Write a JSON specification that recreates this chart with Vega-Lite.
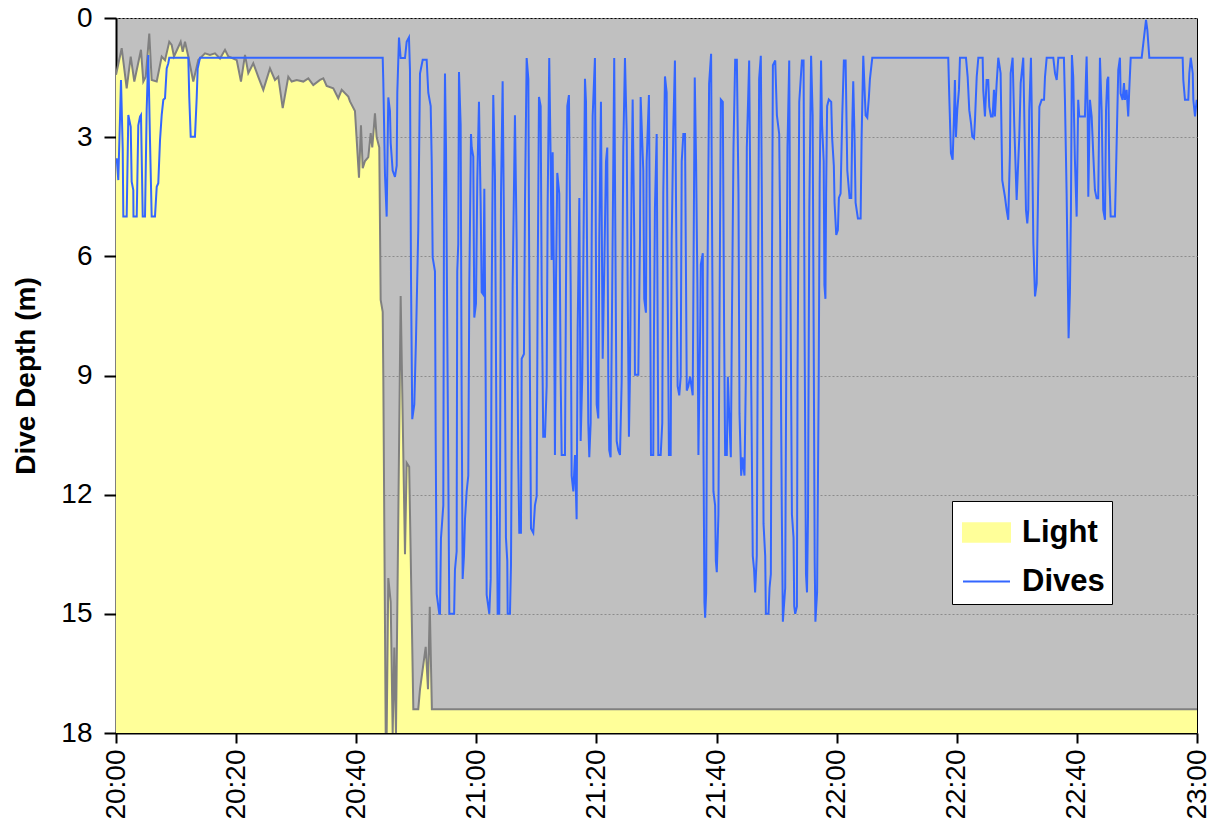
{
  "$schema": "https://vega.github.io/schema/vega-lite/v6.json",
  "width": 1081,
  "height": 715,
  "autosize": "none",
  "padding": {"left": 116, "top": 18, "right": 19, "bottom": 98},
  "background": "white",
  "config": {
    "view": {"fill": "#C0C0C0", "stroke": "#000000", "strokeWidth": 1},
    "font": "Liberation Sans"
  },
  "datasets": {
    "light": [
      {"t":0,"d":1.43},{"t":0.95,"d":0.76},{"t":1.78,"d":1.77},{"t":2.45,"d":0.97},{"t":3.05,"d":1.6},{"t":4.16,"d":0.8},{"t":4.55,"d":1.6},{"t":4.95,"d":1.48},{"t":5.54,"d":0.39},{"t":5.94,"d":1.56},{"t":6.78,"d":1.6},{"t":7.61,"d":0.97},{"t":8.16,"d":1.06},{"t":8.87,"d":0.6},{"t":9.27,"d":0.68},{"t":9.66,"d":0.97},{"t":10.77,"d":0.6},{"t":11.11,"d":0.85},{"t":11.49,"d":0.6},{"t":12.04,"d":0.97},{"t":12.87,"d":1.6},{"t":13.7,"d":1.06},{"t":14.82,"d":0.89},{"t":15.65,"d":0.93},{"t":16.48,"d":0.89},{"t":17.32,"d":1.02},{"t":18.15,"d":0.8},{"t":18.7,"d":0.97},{"t":19.53,"d":1.02},{"t":20.1,"d":1.06},{"t":20.81,"d":1.6},{"t":21.48,"d":0.93},{"t":22.03,"d":1.39},{"t":22.86,"d":1.14},{"t":23.69,"d":1.48},{"t":24.53,"d":1.81},{"t":25.64,"d":1.27},{"t":26.47,"d":1.56},{"t":27.02,"d":1.48},{"t":27.76,"d":2.27},{"t":28.69,"d":1.48},{"t":29.25,"d":1.6},{"t":30.09,"d":1.56},{"t":31.19,"d":1.6},{"t":32.02,"d":1.52},{"t":32.85,"d":1.69},{"t":33.97,"d":1.56},{"t":34.52,"d":1.52},{"t":35.08,"d":1.71},{"t":36.18,"d":1.77},{"t":37.01,"d":2.02},{"t":37.58,"d":1.81},{"t":38.68,"d":1.98},{"t":38.96,"d":2.1},{"t":39.79,"d":2.34},{"t":40.46,"d":4.02},{"t":40.79,"d":2.7},{"t":41.08,"d":3.78},{"t":41.46,"d":3.6},{"t":42.01,"d":3.5},{"t":42.41,"d":2.9},{"t":42.67,"d":3.26},{"t":43.12,"d":2.4},{"t":43.4,"d":3.0},{"t":43.84,"d":3.26},{"t":44.07,"d":7.1},{"t":44.41,"d":7.4},{"t":44.51,"d":9.0},{"t":44.91,"d":18},{"t":45.07,"d":18},{"t":45.34,"d":14.1},{"t":45.74,"d":14.7},{"t":46.07,"d":18},{"t":46.34,"d":15.85},{"t":46.62,"d":18},{"t":47.4,"d":7.0},{"t":48.12,"d":13.5},{"t":48.4,"d":11.2},{"t":48.82,"d":11.3},{"t":49.51,"d":17.4},{"t":50.33,"d":17.4},{"t":50.62,"d":16.9},{"t":51.57,"d":15.83},{"t":51.95,"d":16.9},{"t":52.25,"d":14.82},{"t":52.6,"d":17.4},{"t":180,"d":17.4}
    ],
    "dives": [
      {"t":0.12,"d":3.53},{"t":0.38,"d":4.08},{"t":0.67,"d":2.5},{"t":0.83,"d":1.56},{"t":1.12,"d":3.3},{"t":1.22,"d":5.0},{"t":1.78,"d":5.0},{"t":2.05,"d":2.44},{"t":2.45,"d":2.74},{"t":2.61,"d":4.12},{"t":2.88,"d":4.33},{"t":2.91,"d":5.0},{"t":3.45,"d":5.0},{"t":3.71,"d":2.7},{"t":4.0,"d":2.48},{"t":4.16,"d":2.44},{"t":4.45,"d":5.0},{"t":4.83,"d":5.0},{"t":5.11,"d":2.3},{"t":5.38,"d":0.93},{"t":5.66,"d":3.07},{"t":5.94,"d":5.0},{"t":6.49,"d":5.0},{"t":6.78,"d":4.25},{"t":7.04,"d":4.16},{"t":7.33,"d":3.07},{"t":7.61,"d":2.44},{"t":7.88,"d":2.06},{"t":8.16,"d":2.02},{"t":8.44,"d":1.27},{"t":8.71,"d":1.14},{"t":8.87,"d":1.0},{"t":12.04,"d":1.0},{"t":12.2,"d":2.0},{"t":12.44,"d":2.99},{"t":13.15,"d":2.99},{"t":13.44,"d":2.0},{"t":13.6,"d":1.27},{"t":13.99,"d":1.0},{"t":44.41,"d":1.0},
      {"t":44.51,"d":1.6},{"t":44.79,"d":3.95},{"t":45.07,"d":5.0},{"t":45.34,"d":2.0},{"t":45.62,"d":2.34},{"t":45.74,"d":3.15},{"t":46.07,"d":3.84},{"t":46.45,"d":4.0},{"t":46.74,"d":3.72},{"t":46.84,"d":1.88},{"t":47.12,"d":0.49},{"t":47.4,"d":1.01},{"t":48.12,"d":1.01},{"t":48.4,"d":0.6},{"t":48.78,"d":0.49},{"t":48.95,"d":1.3},{"t":49.12,"d":6.5},{"t":49.33,"d":10.1},{"t":49.67,"d":9.73},{"t":49.95,"d":8.1},{"t":50.33,"d":5.34},{"t":50.62,"d":1.4},{"t":51.07,"d":1.05},{"t":51.73,"d":1.05},{"t":52.0,"d":1.88},{"t":52.4,"d":2.22},{"t":52.57,"d":3.6},{"t":52.73,"d":6.03},{"t":53.11,"d":6.38},{"t":53.23,"d":10.5},{"t":53.4,"d":14.5},{"t":53.83,"d":15.0},{"t":53.95,"d":15.0},{"t":54.11,"d":13.1},{"t":54.5,"d":12.27},{"t":54.61,"d":5.11},{"t":54.78,"d":1.4},{"t":54.95,"d":3.26},{"t":55.16,"d":7.88},{"t":55.33,"d":11.35},{"t":55.5,"d":15.0},{"t":56.3,"d":15.0},
      {"t":56.44,"d":13.89},{"t":56.72,"d":13.43},{"t":56.82,"d":6.38},{"t":56.99,"d":5.69},{"t":57.11,"d":1.36},{"t":57.39,"d":2.69},{"t":57.56,"d":9.61},{"t":57.72,"d":14.12},{"t":57.94,"d":13.54},{"t":58.11,"d":12.62},{"t":58.39,"d":11.92},{"t":58.66,"d":11.52},{"t":58.83,"d":6.73},{"t":59.11,"d":2.92},{"t":59.23,"d":3.26},{"t":59.49,"d":3.49},{"t":59.66,"d":7.54},{"t":59.94,"d":7.19},{"t":60.16,"d":4.07},{"t":60.44,"d":2.11},{"t":60.72,"d":4.65},{"t":60.89,"d":6.9},{"t":61.16,"d":6.96},{"t":61.33,"d":4.3},{"t":61.55,"d":9.03},{"t":61.72,"d":14.52},{"t":62.16,"d":15.0},{"t":62.39,"d":14.12},{"t":62.56,"d":6.96},{"t":62.82,"d":1.94},{"t":63.1,"d":3.96},{"t":63.38,"d":11.35},{"t":63.55,"d":15.0},{"t":63.82,"d":15.0},{"t":63.94,"d":11.92},{"t":64.11,"d":4.42},{"t":64.38,"d":1.59},{"t":64.66,"d":6.15},{"t":64.93,"d":13.08},{"t":65.15,"d":13.66},{"t":65.22,"d":15.0},{"t":65.6,"d":15.0},{"t":65.77,"d":13.77},{"t":66.05,"d":6.73},{"t":66.43,"d":2.45},{"t":66.71,"d":5.57},{"t":66.98,"d":11.12},{"t":67.15,"d":12.96},{"t":67.43,"d":12.96},{"t":67.55,"d":8.58},{"t":67.93,"d":8.46},{"t":68.1,"d":4.65},{"t":68.38,"d":1.01},{"t":68.66,"d":1.53},{"t":68.82,"d":6.73},{"t":69.1,"d":12.85},{"t":69.48,"d":12.96},{"t":69.76,"d":12.27},{"t":70.05,"d":12.04},{"t":70.21,"d":6.73},{"t":70.43,"d":1.99},{"t":70.71,"d":2.22},{"t":70.88,"d":6.73},{"t":71.14,"d":10.54},{"t":71.43,"d":10.54},{"t":71.71,"d":9.27},{"t":71.88,"d":4.65},{"t":72.14,"d":1.01},{"t":72.38,"d":3.61},{"t":72.54,"d":6.09},{"t":72.71,"d":3.38},{"t":72.93,"d":6.73},{"t":73.09,"d":11.0},{"t":73.26,"d":6.73},{"t":73.48,"d":3.9},{"t":73.81,"d":4.42},{"t":74.04,"d":9.03},{"t":74.21,"d":11.0},{"t":74.76,"d":11.0},{"t":74.93,"d":6.73},{"t":75.15,"d":2.22},{"t":75.42,"d":1.94},{"t":75.71,"d":6.73},{"t":75.87,"d":11.52},{"t":76.15,"d":11.92},{"t":76.43,"d":11.0},{"t":76.7,"d":12.62},{"t":76.87,"d":7.88},{"t":77.15,"d":4.53},{"t":77.37,"d":10.65},{"t":77.64,"d":9.03},{"t":77.81,"d":6.27},{"t":78.09,"d":1.53},{"t":78.26,"d":2.11},{"t":78.64,"d":10.19},{"t":78.81,"d":11.06},{"t":79.04,"d":10.19},{"t":79.21,"d":5.57},{"t":79.37,"d":2.46},{"t":79.75,"d":1.01},{"t":80.04,"d":9.73},{"t":80.31,"d":10.08},{"t":80.47,"d":5.57},{"t":80.75,"d":2.11},{"t":81.04,"d":8.58},{"t":81.26,"d":6.73},{"t":81.59,"d":3.61},{"t":81.8,"d":3.26},{"t":81.97,"d":9.03},{"t":82.13,"d":10.88},{"t":82.36,"d":11.06},{"t":82.63,"d":6.73},{"t":82.96,"d":1.01},{"t":83.37,"d":10.65},{"t":83.63,"d":10.88},{"t":83.92,"d":11.0},{"t":84.2,"d":9.15},{"t":84.47,"d":3.26},{"t":84.75,"d":1.01},{"t":85.04,"d":2.92},{"t":85.2,"d":6.73},{"t":85.41,"d":10.54},{"t":85.58,"d":9.03},{"t":85.86,"d":4.07},{"t":86.03,"d":2.05},{"t":86.3,"d":5.57},{"t":86.41,"d":8.98},{"t":86.97,"d":8.98},{"t":87.25,"d":5.57},{"t":87.36,"d":1.99},{"t":87.8,"d":3.84},{"t":87.96,"d":7.07},{"t":88.24,"d":7.42},{"t":88.36,"d":3.61},{"t":88.74,"d":1.94},{"t":88.91,"d":5.57},{"t":89.08,"d":11.0},{"t":89.46,"d":11.0},{"t":89.58,"d":7.88},{"t":89.74,"d":4.77},{"t":90.03,"d":2.92},{"t":90.3,"d":11.0},{"t":90.7,"d":11.0},{"t":90.96,"d":10.19},{"t":91.13,"d":4.42},{"t":91.41,"d":1.47},{"t":91.69,"d":1.88},{"t":91.86,"d":6.73},{"t":92.07,"d":11.0},{"t":92.36,"d":11.0},{"t":92.53,"d":5.57},{"t":92.8,"d":2.8},{"t":93.07,"d":1.07},{"t":93.36,"d":6.73},{"t":93.52,"d":9.27},{"t":93.79,"d":9.5},{"t":94.03,"d":9.03},{"t":94.2,"d":3.61},{"t":94.47,"d":2.92},{"t":94.75,"d":2.92},{"t":95.04,"d":9.38},{"t":95.3,"d":9.27},{"t":95.59,"d":9.03},{"t":96.03,"d":9.5},{"t":96.37,"d":1.5},{"t":96.59,"d":3.61},{"t":96.81,"d":6.73},{"t":96.98,"d":11.0},{"t":97.27,"d":7.88},{"t":97.38,"d":6.21},{"t":97.71,"d":5.92},{"t":97.82,"d":10.77},{"t":97.98,"d":14.7},{"t":98.1,"d":15.1},{"t":98.27,"d":14.46},{"t":98.48,"d":6.73},{"t":98.76,"d":1.65},{"t":99.09,"d":0.9},{"t":99.31,"d":6.73},{"t":99.48,"d":11.92},{"t":99.76,"d":12.27},{"t":99.88,"d":13.66},{"t":100.04,"d":13.95},{"t":100.31,"d":12.5},{"t":100.48,"d":7.88},{"t":100.71,"d":2.05},{"t":101.04,"d":2.11},{"t":101.26,"d":7.88},{"t":101.43,"d":11.0},{"t":101.71,"d":11.0},{"t":101.88,"d":9.03},{"t":102.1,"d":9.96},{"t":102.38,"d":11.06},{"t":102.54,"d":7.88},{"t":102.82,"d":3.26},{"t":103.1,"d":1.05},{"t":103.38,"d":1.05},{"t":103.65,"d":4.42},{"t":103.82,"d":9.96},{"t":104.1,"d":11.52},{"t":104.31,"d":11.06},{"t":104.65,"d":11.52},{"t":104.88,"d":9.03},{"t":105.04,"d":3.26},{"t":105.43,"d":1.07},{"t":105.59,"d":3.84},{"t":105.76,"d":9.03},{"t":106.03,"d":13.54},{"t":106.25,"d":13.89},{"t":106.42,"d":14.46},{"t":106.7,"d":13.54},{"t":106.87,"d":7.88},{"t":107.09,"d":1.53},{"t":107.37,"d":0.95},{"t":107.54,"d":4.42},{"t":107.82,"d":12.73},{"t":108.1,"d":13.54},{"t":108.21,"d":15.0},{"t":108.65,"d":15.0},{"t":108.82,"d":14.35},{"t":109.04,"d":14.0},{"t":109.21,"d":6.73},{"t":109.38,"d":1.19},{"t":109.77,"d":1.07},{"t":110.05,"d":2.45},{"t":110.43,"d":2.92},{"t":110.59,"d":5.34},{"t":110.76,"d":10.19},{"t":110.87,"d":12.5},{"t":111.04,"d":15.2},{"t":111.43,"d":14.35},{"t":111.6,"d":9.03},{"t":111.81,"d":3.26},{"t":112.1,"d":1.07},{"t":112.26,"d":5.57},{"t":112.55,"d":12.5},{"t":112.82,"d":13.08},{"t":112.93,"d":14.81},{"t":113.1,"d":15.0},{"t":113.38,"d":14.81},{"t":113.48,"d":9.03},{"t":113.77,"d":2.11},{"t":114.21,"d":1.07},{"t":114.49,"d":1.07},{"t":114.66,"d":7.88},{"t":114.89,"d":14.0},{"t":115.06,"d":14.46},{"t":115.23,"d":12.5},{"t":115.45,"d":4.77},{"t":115.74,"d":0.95},{"t":116.0,"d":2.45},{"t":116.17,"d":7.88},{"t":116.34,"d":13.66},{"t":116.46,"d":15.2},{"t":116.74,"d":14.46},{"t":117.0,"d":9.38},{"t":117.17,"d":4.19},{"t":117.4,"d":1.07},{"t":117.57,"d":2.69},{"t":117.84,"d":3.61},{"t":117.96,"d":6.73},{"t":118.13,"d":7.07},{"t":118.24,"d":4.42},{"t":118.41,"d":2.22},{"t":118.69,"d":2.05},{"t":119.09,"d":2.11},{"t":119.25,"d":3.03},{"t":119.53,"d":3.72},{"t":119.65,"d":4.65},{"t":119.93,"d":5.46},{"t":120.2,"d":5.34},{"t":120.37,"d":4.53},{"t":120.65,"d":4.42},{"t":120.93,"d":2.45},{"t":121.2,"d":1.07},{"t":121.49,"d":1.07},{"t":121.77,"d":3.84},{"t":122.15,"d":4.53},{"t":122.43,"d":4.53},{"t":122.6,"d":2.69},{"t":122.76,"d":1.59},{"t":122.98,"d":3.03},{"t":123.15,"d":4.65},{"t":123.54,"d":5.05},{"t":123.99,"d":5.05},{"t":124.15,"d":3.03},{"t":124.43,"d":0.95},{"t":124.82,"d":2.45},{"t":125.1,"d":2.51},{"t":125.37,"d":1.99},{"t":125.54,"d":1.53},{"t":125.93,"d":1.0},{"t":138.58,"d":1.0},
      {"t":138.75,"d":1.98},{"t":139.03,"d":3.41},{"t":139.31,"d":3.57},{"t":139.52,"d":2.57},{"t":139.69,"d":1.56},{"t":139.86,"d":3.0},{"t":140.08,"d":2.32},{"t":140.36,"d":1.81},{"t":140.53,"d":1.0},{"t":141.53,"d":1.0},{"t":141.81,"d":1.48},{"t":142.08,"d":2.32},{"t":142.37,"d":2.65},{"t":142.58,"d":2.99},{"t":142.87,"d":3.03},{"t":143.03,"d":2.57},{"t":143.32,"d":1.48},{"t":143.59,"d":1.0},{"t":144.31,"d":1.0},{"t":144.41,"d":1.81},{"t":144.69,"d":2.48},{"t":144.97,"d":1.56},{"t":145.24,"d":1.56},{"t":145.41,"d":2.23},{"t":145.69,"d":2.48},{"t":145.97,"d":2.48},{"t":146.19,"d":1.81},{"t":146.35,"d":2.48},{"t":146.64,"d":1.64},{"t":146.91,"d":1.0},{"t":147.3,"d":1.39},{"t":147.57,"d":4.08},{"t":148.02,"d":4.5},{"t":148.3,"d":4.83},{"t":148.57,"d":5.08},{"t":148.85,"d":3.41},{"t":148.97,"d":1.39},{"t":149.3,"d":1.0},{"t":149.58,"d":2.73},{"t":149.81,"d":3.83},{"t":149.97,"d":4.58},{"t":150.41,"d":2.99},{"t":150.64,"d":1.64},{"t":151.07,"d":1.0},{"t":151.52,"d":4.83},{"t":151.74,"d":5.17},{"t":151.91,"d":4.83},{"t":152.07,"d":2.32},{"t":152.35,"d":1.0},{"t":152.47,"d":2.15},{"t":152.75,"d":5.67},{"t":153.03,"d":7.01},{"t":153.31,"d":6.68},{"t":153.58,"d":3.99},{"t":153.75,"d":2.23},{"t":154.13,"d":2.06},{"t":154.53,"d":2.06},{"t":154.69,"d":1.48},{"t":154.97,"d":1.0},{"t":156.07,"d":1.0},{"t":156.36,"d":1.39},{"t":156.64,"d":1.56},{"t":156.91,"d":1.0},{"t":157.84,"d":1.0},{"t":158.01,"d":2.06},{"t":158.29,"d":4.41},{"t":158.46,"d":6.26},{"t":158.62,"d":8.06},{"t":158.84,"d":6.93},{"t":159.01,"d":4.83},{"t":159.17,"d":0.93},{"t":159.39,"d":1.48},{"t":159.67,"d":3.57},{"t":159.96,"d":5.0},{"t":160.22,"d":2.06},{"t":160.39,"d":2.48},{"t":160.79,"d":2.48},{"t":161.34,"d":2.48},{"t":161.51,"d":1.48},{"t":161.62,"d":0.97},{"t":161.79,"d":2.32},{"t":161.9,"d":4.5},{"t":162.07,"d":2.99},{"t":162.17,"d":2.06},{"t":162.46,"d":2.48},{"t":162.72,"d":3.41},{"t":163.0,"d":4.33},{"t":163.29,"d":4.54},{"t":163.55,"d":4.54},{"t":163.84,"d":1.0},{"t":164.12,"d":2.32},{"t":164.39,"d":4.83},{"t":164.68,"d":5.08},{"t":164.85,"d":2.32},{"t":165.06,"d":1.56},{"t":165.23,"d":1.48},{"t":165.4,"d":3.99},{"t":165.62,"d":5.0},{"t":166.34,"d":5.0},{"t":166.5,"d":3.99},{"t":166.73,"d":2.4},{"t":166.89,"d":1.31},{"t":167.17,"d":1.0},{"t":167.28,"d":1.9},{"t":167.61,"d":2.06},{"t":167.84,"d":1.64},{"t":168.0,"d":2.06},{"t":168.28,"d":1.81},{"t":168.55,"d":2.48},{"t":168.72,"d":1.81},{"t":168.96,"d":1.0},{"t":170.79,"d":1.0},{"t":171.06,"d":0.64},{"t":171.51,"d":0.05},{"t":171.73,"d":0.3},{"t":172.06,"d":1.0},{"t":177.61,"d":1.0},{"t":177.72,"d":1.56},{"t":178.0,"d":2.06},{"t":178.55,"d":2.06},{"t":178.72,"d":1.39},{"t":178.96,"d":1.0},{"t":179.29,"d":1.39},{"t":179.39,"d":2.06},{"t":179.67,"d":2.48},{"t":179.95,"d":2.06}
    ]
  },
  "encoding": {
    "x": {
      "field": "t", "type": "quantitative",
      "scale": {"domain": [0, 180], "nice": false, "zero": false},
      "axis": {
        "title": null,
        "values": [0, 20, 40, 60, 80, 100, 120, 140, 160, 180],
        "labelExpr": "timeFormat(datetime(2000, 0, 1, 20, datum.value), '%H:%M')",
        "labelAngle": -90,
        "labelFont": "Liberation Sans",
        "labelFontSize": 28,
        "labelColor": "#000000",
        "labelPadding": 6,
        "labelFlush": false,
        "labelOverlap": false,
        "domainColor": "#000000",
        "domainWidth": 2,
        "tickColor": "#000000",
        "tickWidth": 2,
        "tickSize": 10,
        "grid": false
      }
    },
    "y": {
      "field": "d", "type": "quantitative",
      "scale": {"domain": [0, 18], "nice": false, "reverse": true},
      "axis": {
        "title": "Dive Depth (m)",
        "titleFont": "Liberation Sans",
        "titleFontSize": 28,
        "titleFontWeight": "bold",
        "titleColor": "#000000",
        "titlePadding": 20,
        "values": [0, 3, 6, 9, 12, 15, 18],
        "labelFont": "Liberation Sans",
        "labelFontSize": 28,
        "labelColor": "#000000",
        "labelPadding": 12,
        "labelFlush": false,
        "labelOverlap": false,
        "domainColor": "#000000",
        "domainWidth": 2,
        "tickColor": "#000000",
        "tickWidth": 2,
        "tickSize": 12,
        "grid": true,
        "gridColor": "#8c8c8c",
        "gridWidth": 1,
        "gridDash": [2, 2]
      }
    }
  },
  "layer": [
    {
      "data": {"name": "light"},
      "mark": {"type": "area", "clip": true, "interpolate": "linear"},
      "encoding": {
        "y2": {"datum": 18},
        "color": {
          "datum": "Light",
          "scale": {"domain": ["Light", "Dives"], "range": ["#FFFF99", "#3366FF"]},
          "legend": {
            "title": null,
            "orient": "none",
            "legendX": 836,
            "legendY": 483,
            "fillColor": "#FFFFFF",
            "strokeColor": "#000000",
            "padding": 7,
            "rowPadding": 9,
            "symbolOffset": 3,
            "labelFont": "Liberation Sans",
            "labelFontSize": 31,
            "labelFontWeight": "bold",
            "labelColor": "#000000",
            "labelOffset": 11,
            "symbolSize": 2209,
            "symbolStrokeWidth": 2,
            "symbolStrokeColor": "#808080",
            "encode": {
              "symbols": {
                "update": {
                  "shape": {"signal": "datum.value === 'Light' ? 'M-1,-0.39H1V0.39H-1Z' : 'M-1,0H1'"},
                  "fill": {"signal": "datum.value === 'Light' ? '#FFFF99' : 'transparent'"},
                  "stroke": {"signal": "datum.value === 'Light' ? '#808080' : '#3366FF'"},
                  "strokeWidth": {"value": 2},
                  "opacity": {"value": 1},
                  "fillOpacity": {"value": 1},
                  "strokeOpacity": {"value": 1}
                }
              }
            }
          }
        }
      }
    },
    {
      "data": {"name": "light"},
      "mark": {"type": "line", "clip": true, "color": "#808080", "strokeWidth": 2},
      "encoding": {}
    },
    {
      "data": {"name": "dives"},
      "mark": {"type": "line", "clip": true, "strokeWidth": 2},
      "encoding": {
        "color": {"datum": "Dives"}
      }
    }
  ]
}
